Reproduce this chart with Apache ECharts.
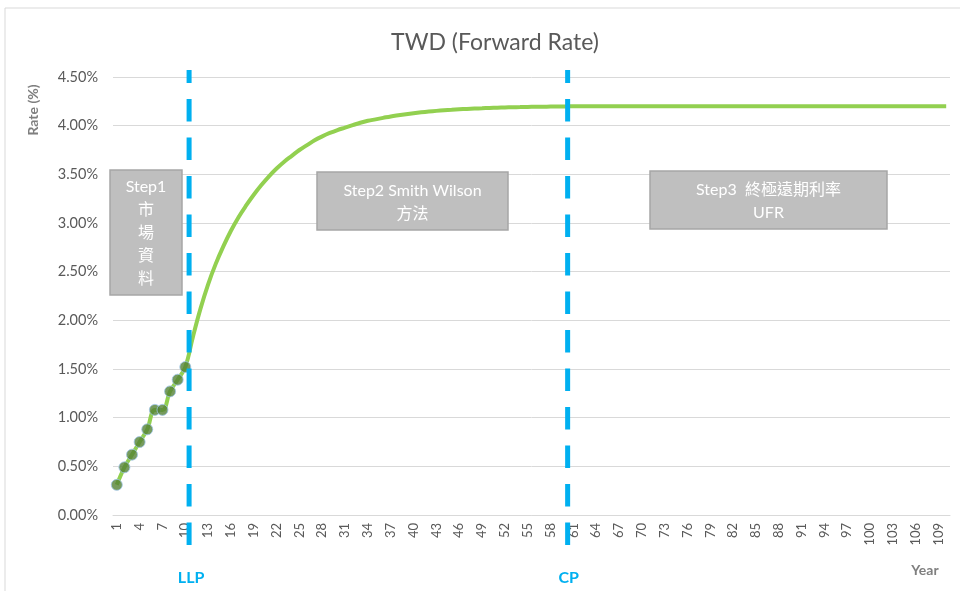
<!DOCTYPE html>
<html>
<head>
<meta charset="utf-8">
<script src="https://cdn.jsdelivr.net/npm/echarts@6/dist/echarts.min.js"></script>
<style>
  html, body { margin: 0; padding: 0; background: #fff; }
  #chart { width: 960px; height: 591px; }
</style>
</head>
<body>
<div id="chart"></div>
<script>
// 年期 1..110
const years = Array.from({ length: 110 }, (_, i) => String(i + 1))
// 市場資料 (第 1~10 年)
const observed = [0.31, 0.49, 0.62, 0.75, 0.88, 1.08, 1.08, 1.27, 1.39, 1.52]
// Smith Wilson 外插 (第 11~110 年)
const extrapolated = [
  1.83, 2.12, 2.37, 2.58, 2.76, 2.92, 3.06, 3.18, 3.29, 3.39,
  3.48, 3.56, 3.63, 3.69, 3.75, 3.80, 3.85, 3.89, 3.925, 3.955,
  3.98, 4.005, 4.03, 4.05, 4.065, 4.08, 4.095, 4.107, 4.118, 4.128,
  4.137, 4.145, 4.152, 4.158, 4.163, 4.168, 4.172, 4.176, 4.179, 4.182,
  4.185, 4.187, 4.189, 4.191, 4.193, 4.194, 4.195, 4.196, 4.197, 4.198,
  4.199, 4.2, 4.2, 4.2, 4.2, 4.2, 4.2, 4.2, 4.2, 4.2,
  4.2, 4.2, 4.2, 4.2, 4.2, 4.2, 4.2, 4.2, 4.2, 4.2,
  4.2, 4.2, 4.2, 4.2, 4.2, 4.2, 4.2, 4.2, 4.2, 4.2,
  4.2, 4.2, 4.2, 4.2, 4.2, 4.2, 4.2, 4.2, 4.2, 4.2,
  4.2, 4.2, 4.2, 4.2, 4.2, 4.2, 4.2, 4.2, 4.2, 4.2
]
const forwardRate = observed.concat(extrapolated)
const yTicks = [0, 0.5, 1, 1.5, 2, 2.5, 3, 3.5, 4, 4.5]

const FONT = 'Lato, "Noto Sans CJK TC", sans-serif'
const chart = echarts.init(document.getElementById('chart'))

chart.setOption({
  animation: false,
  textStyle: { fontFamily: FONT },
  title: {
    text: 'TWD (Forward Rate)',
    left: 490,
    top: 26,
    textAlign: 'center',
    textStyle: { fontSize: 23, fontWeight: 'normal', color: '#595959', fontFamily: FONT }
  },
  grid: { left: 113, right: 10, top: 77, bottom: 76 },
  xAxis: {
    type: 'category',
    data: years,
    boundaryGap: true,
    axisLine: { show: true, lineStyle: { color: '#d9d9d9' } },
    axisTick: { show: false },
    axisLabel: { interval: 2, rotate: 90, color: '#595959', fontSize: 13, margin: 8 }
  },
  yAxis: {
    type: 'value',
    min: yTicks[0],
    max: yTicks[yTicks.length - 1],
    interval: 0.5,
    axisLine: { show: false },
    axisTick: { show: false },
    splitLine: { lineStyle: { color: '#d9d9d9' } },
    axisLabel: { color: '#595959', fontSize: 14.5, margin: 15, formatter: v => v.toFixed(2) + '%' }
  },
  series: [
    {
      type: 'line',
      data: forwardRate,
      smooth: 0.4,
      showSymbol: false,
      lineStyle: { color: '#92D050', width: 4 },
      z: 2
    },
    {
      type: 'scatter',
      data: observed,
      symbol: 'circle',
      symbolSize: 11,
      itemStyle: { color: '#548235', borderColor: '#9DC3E6', borderWidth: 1 },
      z: 3
    }
  ]
})

function drawAnnotations() {
  const xAt = name => chart.convertToPixel({ xAxisIndex: 0 }, name)
  const llpX = (xAt('10') + xAt('11')) / 2
  const cpX = xAt('60') + 0.25 * (xAt('61') - xAt('60'))
  const dash = (x) => ({
    type: 'line',
    shape: { x1: x, y1: 70, x2: x, y2: 547 },
    style: { stroke: '#00B0F0', lineWidth: 5, lineDash: [22.5, 16], lineDashOffset: 9.5 },
    z: 10
  })
  const box = (x, y, w, h, text, top, lh) => ({
    type: 'group',
    x: x,
    y: y,
    z: 20,
    children: [
      { type: 'rect', shape: { x: 0, y: 0, width: w, height: h },
        style: { fill: '#BFBFBF', stroke: '#A6A6A6', lineWidth: 1.5 } },
      { type: 'text', x: w / 2, y: top,
        style: { text: text, fill: '#fff', font: '16px ' + FONT, textAlign: 'center',
                 textVerticalAlign: 'top', lineHeight: lh } }
    ]
  })
  chart.setOption({
    graphic: [
      { type: 'rect', shape: { x: 5, y: 8, width: 970, height: 600 },
        style: { fill: 'none', stroke: '#d9d9d9', lineWidth: 1 }, silent: true },
      dash(llpX),
      dash(cpX),
      { type: 'text', x: llpX + 2, y: 578,
        style: { text: 'LLP', fill: '#00B0F0', font: 'bold 16px ' + FONT, textAlign: 'center', textVerticalAlign: 'middle' } },
      { type: 'text', x: cpX + 1, y: 578,
        style: { text: 'CP', fill: '#00B0F0', font: 'bold 16px ' + FONT, textAlign: 'center', textVerticalAlign: 'middle' } },
      { type: 'text', x: 925, y: 570,
        style: { text: 'Year', fill: '#7f7f7f', font: 'bold 14px ' + FONT, textAlign: 'center', textVerticalAlign: 'middle' } },
      { type: 'text', x: 33, y: 110, rotation: Math.PI / 2,
        style: { text: 'Rate (%)', fill: '#7f7f7f', font: 'bold 14px ' + FONT, textAlign: 'center', textVerticalAlign: 'middle' } },
      box(110, 170, 72, 125, 'Step1\n市\n場\n資\n料', 5.5, 23),
      box(317, 172, 191, 58, 'Step2 Smith Wilson\n方法', 7.5, 23),
      box(650, 171, 237, 58, 'Step3  終極遠期利率\nUFR', 7.5, 23)
    ]
  })
}
drawAnnotations()
</script>
</body>
</html>
